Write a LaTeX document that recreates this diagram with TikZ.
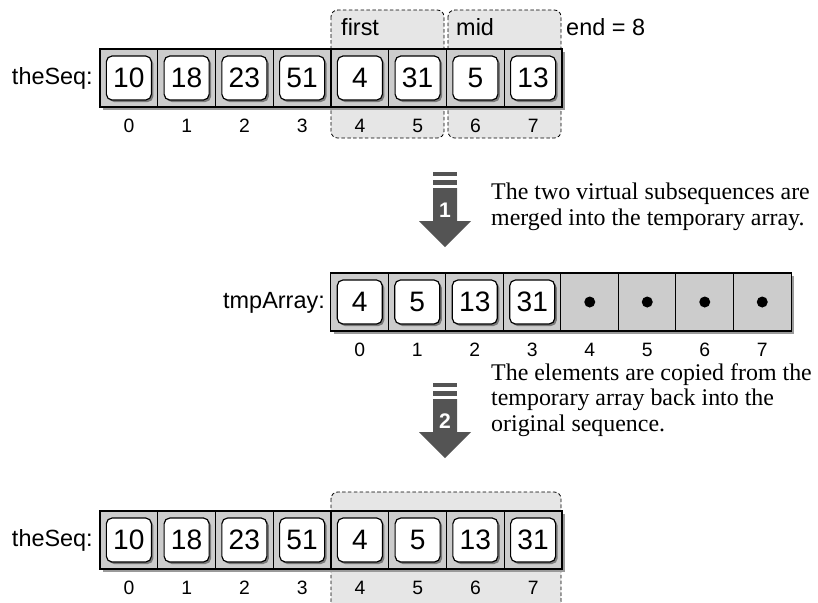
\documentclass[tikz,border=0pt]{standalone}
\usepackage{fontspec}
\setsansfont{Liberation Sans}
\newfontfamily\notefont{Liberation Serif}
\usetikzlibrary{shadows}
\definecolor{cellgray}{HTML}{CCCCCC}
\definecolor{regiongray}{HTML}{E6E6E6}
\definecolor{arrowgray}{HTML}{545454}
\definecolor{shadowgray}{HTML}{9A9A9A}
\definecolor{boxshadow}{HTML}{7A7A7A}

\begin{document}
\begin{tikzpicture}[
  x=0.03cm,
  y=-0.03cm,
  every node/.style={inner sep=0pt, font=\sffamily\fontsize{20}{24}\selectfont},
  cell/.style={draw=black, line width=1pt, fill=cellgray,
               minimum width=1.7325cm, minimum height=1.74cm,
               drop shadow={shadow xshift=0.09cm, shadow yshift=-0.09cm,
                            fill=shadowgray, opacity=1}},
  valbox/.style={draw=black, line width=1pt, fill=white, rounded corners=0.17cm,
                 minimum width=1.35cm, minimum height=1.32cm,
                 font=\sffamily\fontsize{24}{28}\selectfont,
                 drop shadow={shadow xshift=0.06cm, shadow yshift=-0.06cm,
                              fill=boxshadow, opacity=1}},
  index/.style={anchor=base, font=\sffamily\fontsize{16.5}{18}\selectfont},
  emptydot/.style={circle, fill=black, minimum size=0.33cm},
  region/.style={draw=black, line width=0.7pt, dash pattern=on 3pt off 2pt,
                 fill=regiongray, rounded corners=0.2cm},
  rowlabel/.style={anchor=base east},
  marklabel/.style={anchor=base west},
  stepfill/.style={fill=arrowgray},
  stepnum/.style={text=white, font=\sffamily\bfseries\fontsize{18}{20}\selectfont},
  note/.style={anchor=north west, align=left,
               font=\notefont\fontsize{20.4}{22.1}\selectfont}
]
  \useasboundingbox (0,0) rectangle (818,602);

  % ---- dashed subsequence regions ----
  \draw[region] (331,10) rectangle (444,138);
  \draw[region] (448,10) rectangle (561,138);
  \draw[region] (331,492) rectangle (561,608);

  % ---- theSeq before the merge ----
  \node[rowlabel] (seqA) at (93,84) {theSeq:};
  \foreach \v [count=\i from 0] in {10,18,23,51,4,31,5,13} {
    \node[cell] (a\i) at ({100+57.75*(\i+0.5)},78) {};
    \node[valbox] (av\i) at (a\i) {\v};
    \node[index] (ai\i) at ({100+57.75*(\i+0.5)},132) {\i};
  }
  \node[marklabel] (first) at (341,35) {first};
  \node[marklabel] (mid) at (456,35) {mid};
  \node[marklabel] (endA) at (566,35) {end = 8};

  % ---- tmpArray ----
  \node[rowlabel] (tmp) at (325,308) {tmpArray:};
  \foreach \v [count=\i from 0] in {4,5,13,31} {
    \node[cell] (t\i) at ({331+57.5*(\i+0.5)},302) {};
    \node[valbox] (tv\i) at (t\i) {\v};
  }
  \foreach \i in {4,...,7} {
    \node[cell] (t\i) at ({331+57.5*(\i+0.5)},302) {};
    \node[emptydot] (tv\i) at (t\i) {};
  }
  \foreach \i in {0,...,7}
    \node[index] (ti\i) at ({331+57.5*(\i+0.5)},356) {\i};

  % ---- theSeq after copying back ----
  \node[rowlabel] (seqB) at (93,546) {theSeq:};
  \foreach \v [count=\i from 0] in {10,18,23,51,4,5,13,31} {
    \node[cell] (b\i) at ({100+57.75*(\i+0.5)},540) {};
    \node[valbox] (bv\i) at (b\i) {\v};
    \node[index] (bi\i) at ({100+57.75*(\i+0.5)},594) {\i};
  }

  % ---- step arrows ----
  \foreach \n/\dy in {1/0, 2/211} {
    \fill[stepfill] (433,{172+\dy}) rectangle (457,{176+\dy});
    \fill[stepfill] (433,{180+\dy}) rectangle (457,{185+\dy});
    \fill[stepfill] (433,{188+\dy}) -- (457,{188+\dy}) -- (457,{221+\dy})
      -- (471,{221+\dy}) -- (445,{247+\dy}) -- (419,{221+\dy})
      -- (433,{221+\dy}) -- cycle;
    \node[stepnum] (step\n) at (445,{210+\dy}) {\n};
  }

  % ---- notes ----
  \node[note] (noteA) at (491,183)
    {The two virtual subsequences are\\merged into the temporary array.};
  \node[note] (noteB) at (491,363)
    {The elements are copied from the\\temporary array back into the\\original sequence.};
\end{tikzpicture}
\end{document}
